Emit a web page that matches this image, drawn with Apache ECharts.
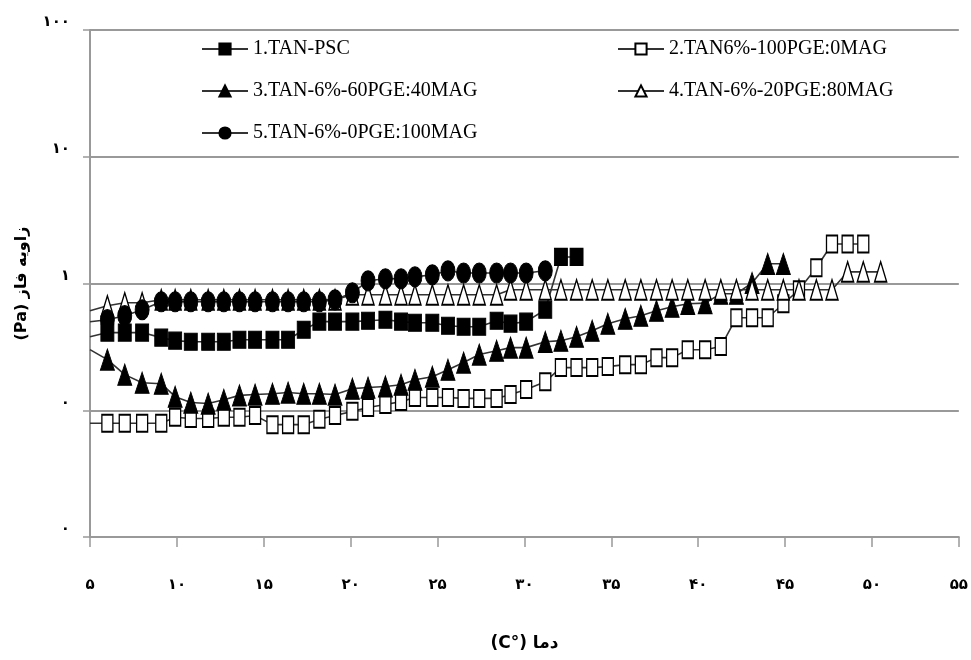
<!DOCTYPE html>
<html>
<head>
<meta charset="utf-8">
<script src="https://cdn.jsdelivr.net/npm/echarts@6/dist/echarts.min.js"></script>
<style>
  html, body { margin: 0; padding: 0; background: #fff; }
  #chart { width: 971px; height: 660px; }
</style>
</head>
<body>
<div id="chart"></div>
<script>
// temperature of each reading (first entry is the line start on the axis, no marker)
const temps = [5, 6.0, 7.0, 8.0, 9.1, 9.9, 10.8, 11.8, 12.7, 13.6, 14.5, 15.5, 16.4, 17.3, 18.2, 19.1,
  20.1, 21.0, 22.0, 22.9, 23.7, 24.7, 25.6, 26.5, 27.4, 28.4, 29.2, 30.1, 31.2, 32.1, 33.0, 33.9,
  34.8, 35.8, 36.7, 37.6, 38.5, 39.4, 40.4, 41.3, 42.2, 43.1, 44.0, 44.9, 45.8, 46.8, 47.7, 48.6,
  49.5, 50.5]

const tanPsc = [0.38, 0.41, 0.41, 0.41, 0.374, 0.354, 0.347, 0.347, 0.347, 0.36, 0.36, 0.36, 0.36,
  0.432, 0.5, 0.5, 0.5, 0.508, 0.518, 0.5, 0.49, 0.49, 0.464, 0.456, 0.456, 0.508, 0.482, 0.5,
  0.621, 1.62, 1.62]

const pge100 = [0.079, 0.079, 0.079, 0.079, 0.079, 0.088, 0.086, 0.086, 0.088, 0.088, 0.091, 0.077,
  0.077, 0.077, 0.085, 0.091, 0.098, 0.105, 0.111, 0.117, 0.126, 0.126, 0.126, 0.124, 0.124, 0.124,
  0.133, 0.146, 0.168, 0.217, 0.217, 0.217, 0.221, 0.229, 0.229, 0.26, 0.26, 0.3, 0.3, 0.318,
  0.537, 0.537, 0.537, 0.692, 0.892, 1.33, 2.05, 2.05, 2.05]

const pge60 = [0.301, 0.251, 0.191, 0.165, 0.162, 0.128, 0.115, 0.113, 0.121, 0.131, 0.133, 0.135,
  0.138, 0.135, 0.135, 0.133, 0.148, 0.151, 0.154, 0.159, 0.174, 0.184, 0.209, 0.238, 0.275, 0.295,
  0.312, 0.312, 0.347, 0.354, 0.38, 0.424, 0.482, 0.527, 0.557, 0.61, 0.656, 0.692, 0.7, 0.83,
  0.83, 1.01, 1.43, 1.43]

const pge20 = [0.61, 0.667, 0.705, 0.705, 0.744, 0.744, 0.744, 0.744, 0.744, 0.744, 0.744, 0.744,
  0.744, 0.744, 0.744, 0.744, 0.815, 0.815, 0.815, 0.815, 0.815, 0.815, 0.815, 0.815, 0.815, 0.815,
  0.892, 0.892, 0.892, 0.892, 0.892, 0.892, 0.892, 0.892, 0.892, 0.892, 0.892, 0.892, 0.892, 0.892,
  0.892, 0.892, 0.892, 0.892, 0.892, 0.892, 0.892, 1.236, 1.236, 1.236]

const pge0 = [0.499, 0.518, 0.557, 0.621, 0.718, 0.718, 0.718, 0.718, 0.718, 0.718, 0.718, 0.718,
  0.718, 0.718, 0.718, 0.744, 0.845, 1.05, 1.09, 1.09, 1.13, 1.17, 1.26, 1.21, 1.21, 1.21, 1.21,
  1.21, 1.26]

const seriesNames = ['1.TAN-PSC', '2.TAN6%-100PGE:0MAG', '3.TAN-6%-60PGE:40MAG',
  '4.TAN-6%-20PGE:80MAG', '5.TAN-6%-0PGE:100MAG']

const xTicks = [5, 10, 15, 20, 25, 30, 35, 40, 45, 50, 55]
const xTickLabels = ['۵', '۱۰', '۱۵', '۲۰', '۲۵', '۳۰', '۳۵', '۴۰', '۴۵', '۵۰', '۵۵']
const yTicks = [0.01, 0.1, 1, 10, 100]
const yTickLabels = ['۰', '۰', '۱', '۱۰', '۱۰۰']

const toPoints = (vals) => vals.map((v, i) => {
  const item = { value: [temps[i], v] }
  if (i === 0) item.symbol = 'none'
  return item
})

const tickFont = { fontFamily: 'DejaVu Sans', fontWeight: 'bold', fontSize: 15, color: '#000' }

const makeSeries = (name, vals, symbol, size, filled) => ({
  name,
  type: 'line',
  data: toPoints(vals),
  symbol,
  symbolSize: size,
  showAllSymbol: true,
  lineStyle: { color: '#333', width: 1.6 },
  itemStyle: filled
    ? { color: '#000', borderColor: '#000', borderWidth: 1 }
    : { color: '#fff', borderColor: '#000', borderWidth: 1.6 },
})

const legendBase = {
  orient: 'vertical',
  top: 34,
  itemWidth: 46,
  itemHeight: 14,
  itemGap: 22,
  textStyle: { fontFamily: 'Liberation Serif', fontSize: 20, color: '#000' },
}

const chart = echarts.init(document.getElementById('chart'))

chart.setOption({
  animation: false,
  backgroundColor: '#fff',
  grid: { left: 90, right: 8, top: 30, bottom: 123 },
  legend: [
    { ...legendBase, data: [seriesNames[0], seriesNames[2], seriesNames[4]], left: 196 },
    { ...legendBase, data: [seriesNames[1], seriesNames[3]], left: 612 },
  ],
  xAxis: {
    type: 'value',
    min: 5,
    max: 55,
    interval: 5,
    name: '(C°) دما',
    nameLocation: 'middle',
    nameGap: 98,
    nameTextStyle: { fontFamily: 'DejaVu Sans', fontWeight: 'bold', fontSize: 17, color: '#000' },
    axisLine: { lineStyle: { color: '#999', width: 2 } },
    axisTick: { length: 10, lineStyle: { color: '#999', width: 1.5 } },
    splitLine: { show: false },
    axisLabel: {
      ...tickFont,
      margin: 41,
      formatter: (v) => xTickLabels[xTicks.indexOf(v)] ?? '',
    },
  },
  yAxis: {
    type: 'log',
    logBase: 10,
    min: 0.01,
    max: 100,
    name: '(Pa) زاویه فاز',
    nameLocation: 'middle',
    nameRotate: 90,
    nameGap: 60,
    nameTextStyle: { fontFamily: 'DejaVu Sans', fontWeight: 'bold', fontSize: 16, color: '#000' },
    axisLine: { show: true, lineStyle: { color: '#999', width: 2 } },
    axisTick: { show: true, length: 7, lineStyle: { color: '#999', width: 1.5 } },
    splitLine: { show: true, lineStyle: { color: '#999', width: 2 } },
    axisLabel: {
      ...tickFont,
      margin: 20,
      verticalAlign: 'bottom',
      formatter: (v) => {
        const idx = yTicks.findIndex((t) => Math.abs(Math.log10(t) - Math.log10(v)) < 1e-6)
        return idx >= 0 ? yTickLabels[idx] : ''
      },
    },
  },
  series: [
    makeSeries(seriesNames[0], tanPsc, 'rect', [13, 17], true),
    makeSeries(seriesNames[1], pge100, 'rect', [11, 17], false),
    makeSeries(seriesNames[2], pge60, 'triangle', [14, 21], true),
    makeSeries(seriesNames[3], pge20, 'triangle', [12, 20], false),
    makeSeries(seriesNames[4], pge0, 'circle', [14, 20], true),
  ],
})
</script>
</body>
</html>
